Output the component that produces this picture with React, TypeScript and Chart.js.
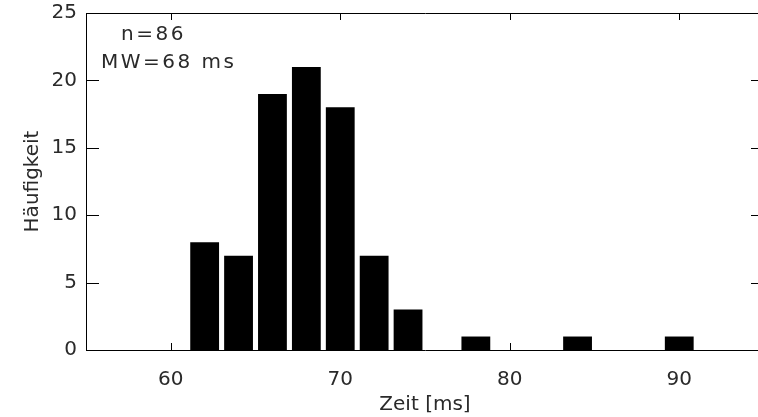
import React, { useEffect, useRef } from "react";
import { Chart, registerables } from "chart.js";

Chart.register(...registerables);

const binCenters = [62, 64, 66, 68, 70, 72, 74, 76, 78, 80, 82, 84, 86, 88, 90];
const counts = [8, 7, 19, 21, 18, 7, 3, 0, 1, 0, 0, 1, 0, 0, 1];
const xTicks = [60, 70, 80, 90];
const yTicks = [0, 5, 10, 15, 20, 25];
const annotationLines = ["n=86", "MW=68 ms"];
const xTitle = "Zeit [ms]";
const yTitle = "Häufigkeit";

const FONT = "'DejaVu Sans', sans-serif";
const TEXT = "#2a2a2a";

const boxPlugin = {
  id: "idlBox",
  afterDraw(chart: any) {
    const { ctx, chartArea } = chart;
    const { left, right, top, bottom } = chartArea;
    const xs = chart.scales.x;
    const ys = chart.scales.y;
    ctx.save();
    ctx.strokeStyle = "#000";
    ctx.lineWidth = 1;
    ctx.beginPath();
    ctx.rect(Math.round(left) + 0.5, Math.round(top) + 0.5, Math.round(right - left), Math.round(bottom - top));
    ctx.stroke();
    ctx.beginPath();
    for (const v of xTicks) {
      const px = Math.round(xs.getPixelForValue(v)) + 0.5;
      ctx.moveTo(px, bottom);
      ctx.lineTo(px, bottom - 7);
      ctx.moveTo(px, top);
      ctx.lineTo(px, top + 7);
    }
    for (const v of yTicks) {
      const py = Math.round(ys.getPixelForValue(v)) + 0.5;
      ctx.moveTo(left, py);
      ctx.lineTo(left + 13, py);
      ctx.moveTo(right, py);
      ctx.lineTo(right - 13, py);
    }
    ctx.stroke();
    ctx.fillStyle = TEXT;
    ctx.font = `20px ${FONT}`;
    (ctx as any).letterSpacing = "2.5px";
    ctx.textBaseline = "alphabetic";
    ctx.textAlign = "left";
    ctx.fillText(annotationLines[0], left + 35, top + 27);
    ctx.fillText(annotationLines[1], left + 15, top + 55);
    ctx.restore();
  },
};

export default function App() {
  const ref = useRef<HTMLCanvasElement>(null);
  useEffect(() => {
    document.body.style.margin = "0";
    const chart = new Chart(ref.current!, {
      type: "bar",
      data: {
        datasets: [
          {
            data: binCenters.map((x, i) => ({ x, y: counts[i] })),
            backgroundColor: "#000",
            borderWidth: 0,
            barPercentage: 0.85,
            categoryPercentage: 1,
          },
        ],
      },
      options: {
        animation: false,
        responsive: false,
        devicePixelRatio: 1,
        layout: { padding: { top: 13, right: 2, left: 0, bottom: 0 } },
        plugins: { legend: { display: false }, tooltip: { enabled: false } },
        scales: {
          x: {
            type: "linear",
            min: 55,
            max: 95,
            offset: false,
            grid: { display: false, drawTicks: false },
            border: { display: false },
            afterBuildTicks: (s: any) => {
              s.ticks = xTicks.map((v) => ({ value: v }));
            },
            afterFit: (s: any) => {
              s.height = 67;
              s.paddingLeft = 0;
              s.paddingRight = 0;
            },
            ticks: {
              autoSkip: false,
              maxRotation: 0,
              padding: 18,
              color: TEXT,
              font: { family: FONT, size: 20 },
            },
            title: {
              display: true,
              text: xTitle,
              color: TEXT,
              font: { family: FONT, size: 20 },
              padding: 0,
            },
          },
          y: {
            min: 0,
            max: 25,
            grid: { display: false, drawTicks: false },
            border: { display: false },
            afterBuildTicks: (s: any) => {
              s.ticks = yTicks.map((v) => ({ value: v }));
            },
            afterFit: (s: any) => {
              s.width = 86;
              s.paddingTop = 0;
              s.paddingBottom = 0;
            },
            ticks: {
              padding: 9,
              color: TEXT,
              font: { family: FONT, size: 20 },
            },
            title: {
              display: true,
              text: yTitle,
              color: TEXT,
              font: { family: FONT, size: 20 },
              padding: { top: 21, bottom: 0 },
            },
          },
        },
      },
      plugins: [boxPlugin],
    });
    return () => chart.destroy();
  }, []);
  return (
    <div style={{ width: 758, height: 417, overflow: "hidden", background: "#fff" }}>
      <canvas ref={ref} width={766} height={417} />
    </div>
  );
}
